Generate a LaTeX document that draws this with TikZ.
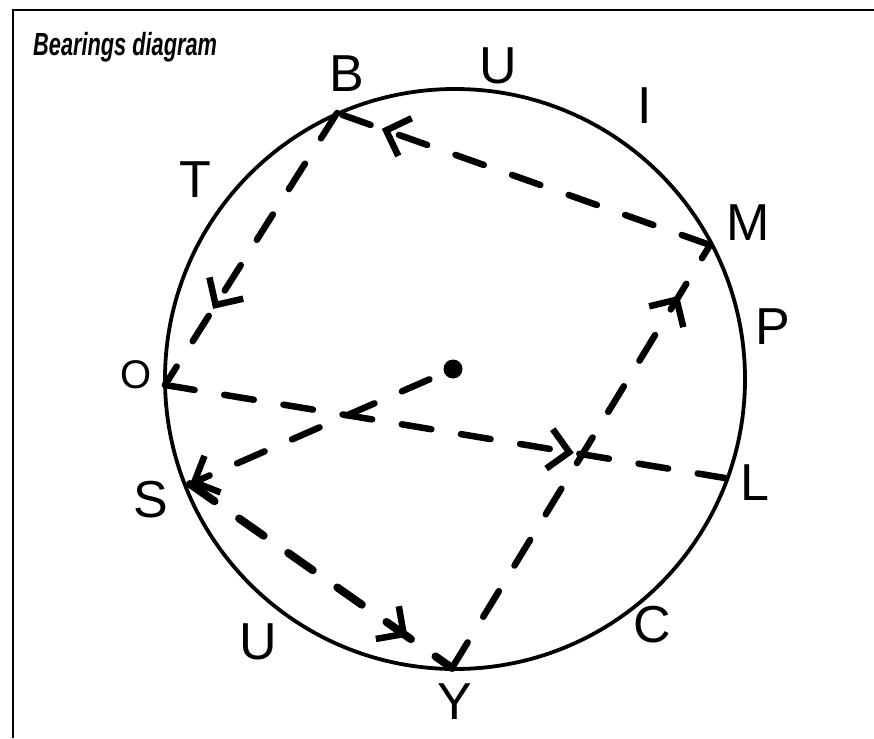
\documentclass[tikz,border=0pt]{standalone}
\usepackage{fontspec}
\setmainfont{Liberation Sans}
\newfontfamily\titlefont[FakeStretch=0.68]{Liberation Sans}
\usetikzlibrary{arrows.meta,decorations.markings}

\begin{document}
\begin{tikzpicture}[x=1pt, y=-1pt,
    bearing/.style={line width=6.5pt, line cap=round, dash pattern=on 30pt off 30pt},
    tipat/.style={postaction={decorate}, decoration={markings,
        mark=at position #1 with {\arrow[line width=6.5pt]{Straight Barb[length=20pt, width=40pt]}}}},
    letter/.style={font=\fontsize{52}{52}\selectfont, inner sep=0pt},
    dot/.style={circle, fill=black, minimum size=19pt, inner sep=0pt},
    title/.style={font=\titlefont\fontsize{32}{32}\selectfont\bfseries\itshape, anchor=base west, inner sep=0pt}]

\useasboundingbox (0,0) rectangle (874,738);

% Frame and heading
\draw[line width=2pt] (13,738) -- (13,10) -- (874,10);
\node[title] (heading) at (33,56) {Bearings diagram};

% Circle and its centre
\coordinate (centre) at (455,379);
\draw[line width=3.8pt] (centre) circle [radius=290pt];
\node[dot] (ctr) at (453,369) {};

% Points on the circle
\coordinate (B) at (337,113);
\coordinate (M) at (710,245);
\coordinate (O) at (165,385);
\coordinate (S) at (190,484);
\coordinate (Y) at (452,668);
\coordinate (L) at (725,478);

% Bearings (dashed, arrow part way along)
\draw[bearing, tipat=0.88] (M) -- (B);
\draw[bearing, tipat=0.72] (B) -- (O);
\draw[bearing, tipat=0.73] (O) -- (L);
\draw[bearing, -{Straight Barb[length=20pt, width=40pt]}, shorten <=16pt] (ctr) -- (S);
\draw[bearing, line width=8pt, tipat=0.83] (S) -- (Y);
\draw[bearing, tipat=0.88] (Y) -- (M);

% Letters round the circle
\node[letter] (lblB) at (347,74) {B};
\node[letter] (lblU1) at (498,66) {U};
\node[letter] (lblI) at (645,106) {I};
\node[letter] (lblM) at (748,223) {M};
\node[letter] (lblP) at (773,327) {P};
\node[letter] (lblL) at (755,483) {L};
\node[letter] (lblC) at (652,625) {C};
\node[letter] (lblY) at (455,702) {Y};
\node[letter] (lblU2) at (258,642) {U};
\node[letter] (lblS) at (151,500) {S};
\node[letter, font=\fontsize{40}{40}\selectfont] (lblO) at (136,375) {O};
\node[letter] (lblT) at (195,180) {T};

\end{tikzpicture}
\end{document}
